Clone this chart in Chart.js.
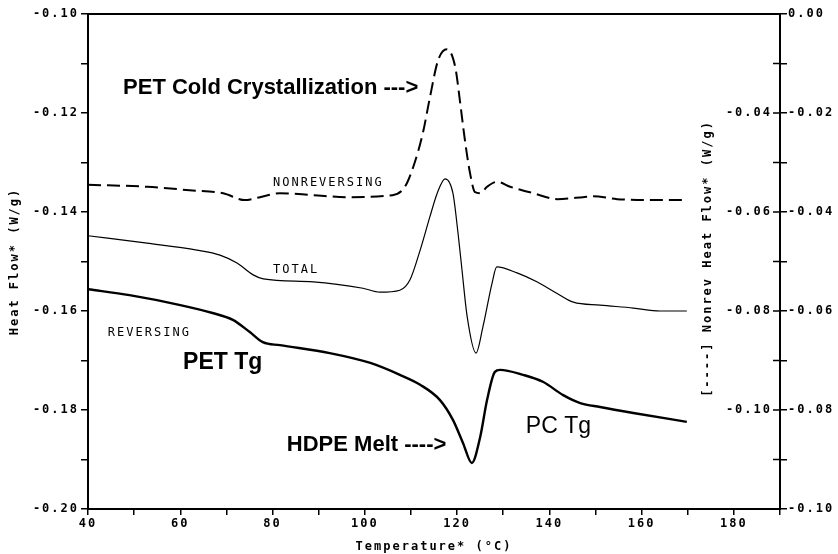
<!DOCTYPE html>
<html><head><meta charset="utf-8">
<script src="https://cdn.jsdelivr.net/npm/chart.js@4.4.1/dist/chart.umd.min.js"></script>
<style>html,body{margin:0;padding:0;background:#fff}#wrap{width:838px;height:554px;position:relative}</style>
</head><body><div id="wrap"><canvas id="c" width="838" height="554"></canvas></div>
<script>
// ---- data (temperature in °C, heat flow in W/g) ----
const tempNonrev = [40, 52.8, 62, 69.3, 74, 77.3, 81.6, 88.8, 96, 106, 108.7, 110.5, 112.6, 114, 115.9, 117.8, 119.6, 120.6, 121.7, 122.8, 123.9, 125, 126.5, 128.7, 131.5, 136.5, 141.7, 147.3, 149.5, 154.7, 161.8, 169.8];
const nonrevFlow = [-0.0345, -0.0349, -0.0356, -0.0362, -0.0376, -0.0370, -0.0362, -0.0366, -0.0370, -0.0366, -0.0349, -0.0309, -0.0240, -0.0174, -0.0093, -0.0071, -0.0107, -0.0174, -0.0255, -0.0321, -0.0360, -0.0362, -0.0349, -0.0339, -0.0349, -0.0362, -0.0374, -0.0370, -0.0368, -0.0374, -0.0376, -0.0376];

const tempTotal = [40, 52.8, 63.6, 68.6, 72.3, 75.8, 78, 88.8, 99.6, 103.3, 107.6, 109.8, 112, 114.1, 115.7, 117.4, 119.1, 120.2, 121, 122.2, 124.1, 125.6, 127.6, 128.6, 133, 137.3, 141.6, 145.2, 151, 158.2, 164, 169.8];
const totalFlow = [-0.1448, -0.1463, -0.1477, -0.1487, -0.1503, -0.1527, -0.1535, -0.1541, -0.1554, -0.1562, -0.1558, -0.1537, -0.1477, -0.1410, -0.1362, -0.1333, -0.1362, -0.1442, -0.1511, -0.1612, -0.1685, -0.1632, -0.1543, -0.1511, -0.1523, -0.1541, -0.1564, -0.1582, -0.1588, -0.1594, -0.1600, -0.1600];

const tempRev = [40, 49, 60, 67, 71.4, 75, 77.9, 81.6, 92.4, 101.2, 107.6, 112, 116.3, 119.1, 121.3, 123.2, 125, 126.5, 128.2, 129.3, 134.3, 138.6, 143, 146.7, 151, 158.2, 169.8];
const revFlow = [-0.1556, -0.1568, -0.1588, -0.1604, -0.1618, -0.1642, -0.1663, -0.1669, -0.1685, -0.1705, -0.1729, -0.1749, -0.1780, -0.1820, -0.1867, -0.1907, -0.1855, -0.1780, -0.1723, -0.1719, -0.1729, -0.1743, -0.1770, -0.1786, -0.1794, -0.1806, -0.1824];

const leftTickValues = [-0.20, -0.18, -0.16, -0.14, -0.12, -0.10];
const leftTickLabels = ['-0.20', '-0.18', '-0.16', '-0.14', '-0.12', '-0.10'];
const rightTickValues = [-0.10, -0.08, -0.06, -0.04, -0.02, 0.00];
const rightTickLabels = ['-0.10', '-0.08', '-0.06', '-0.04', '-0.02', '0.00'];
const innerTickValues = [-0.10, -0.08, -0.06, -0.04];
const innerTickLabels = ['-0.10', '-0.08', '-0.06', '-0.04'];
const xTickLabelValues = [40, 60, 80, 100, 120, 140, 160, 180];

const annotationTexts = ['PET Cold Crystallization --->', 'NONREVERSING', 'TOTAL', 'REVERSING', 'PET Tg', 'HDPE Melt ---->', 'PC Tg'];
const annotationTemps = [47.6, 80.1, 80.1, 44.3, 60.6, 83.1, 134.9];
const annotationFlows = [-0.1149, -0.1341, -0.1517, -0.1644, -0.1705, -0.1871, -0.1834];

// ---- styling ----
const MONO = '"DejaVu Sans Mono", "Liberation Mono", monospace';
const SANS = '"Liberation Sans", Arial, sans-serif';
const annotationFonts = ['bold 22px ' + SANS, '12px ' + MONO, '12px ' + MONO, '12px ' + MONO, 'bold 23px ' + SANS, 'bold 22px ' + SANS, '23px ' + SANS];
const annotationSpacing = ['0px', '2px', '2px', '2px', '0px', '0px', '0px'];

function pts(xs, ys) { return xs.map((x, i) => ({x: x, y: ys[i]})); }
function labelFor(values, labels) {
  return function (v) {
    for (let i = 0; i < values.length; i++) if (Math.abs(values[i] - v) < 1e-6) return labels[i];
    return '';
  };
}

const spacingPlugin = {
  id: 'spacing',
  beforeUpdate(chart) { chart.ctx.letterSpacing = '2px'; },
  beforeLayout(chart) { chart.ctx.letterSpacing = '2px'; },
  beforeDraw(chart) { chart.ctx.letterSpacing = '2px'; }
};

const decorPlugin = {
  id: 'decor',
  afterDraw(chart) {
    const ctx = chart.ctx, a = chart.chartArea;
    const sx = chart.scales.x, sy = chart.scales.y, y2 = chart.scales.y2, y3 = chart.scales.y3;
    ctx.save();
    ctx.strokeStyle = '#000';
    ctx.fillStyle = '#000';
    ctx.lineWidth = 2;
    ctx.strokeRect(a.left, a.top, a.right - a.left, a.bottom - a.top);
    // inner part of right axis ticks
    ctx.lineWidth = 1.5;
    for (let k = 0; k <= 10; k++) {
      const yy = y2.getPixelForValue(-k / 100);
      ctx.beginPath(); ctx.moveTo(a.right - 7, yy); ctx.lineTo(a.right, yy); ctx.stroke();
    }
    // inner scale labels
    ctx.font = 'bold 12px ' + MONO;
    ctx.letterSpacing = '2px';
    ctx.textAlign = 'right';
    ctx.textBaseline = 'middle';
    innerTickValues.forEach((v, i) => {
      ctx.fillText(innerTickLabels[i], a.right - 8, y3.getPixelForValue(v));
    });
    // inner axis title
    ctx.save();
    ctx.translate(a.right - 72, (a.top + a.bottom) / 2 - 3);
    ctx.rotate(-Math.PI / 2);
    ctx.textAlign = 'center';
    ctx.fillText('[----] Nonrev Heat Flow* (W/g)', 0, 0);
    ctx.restore();
    // annotations
    ctx.textAlign = 'left';
    annotationTexts.forEach((t, i) => {
      ctx.font = annotationFonts[i];
      ctx.letterSpacing = annotationSpacing[i];
      ctx.fillText(t, sx.getPixelForValue(annotationTemps[i]), sy.getPixelForValue(annotationFlows[i]));
    });
    ctx.restore();
  }
};

const tickFont = {family: MONO, size: 12, weight: 'bold'};

new Chart(document.getElementById('c'), {
  type: 'line',
  data: {
    datasets: [
      {label: 'NONREVERSING', data: pts(tempNonrev, nonrevFlow), yAxisID: 'y2', borderColor: '#000', borderWidth: 2, borderDash: [13, 6], pointRadius: 0, fill: false, cubicInterpolationMode: 'monotone'},
      {label: 'TOTAL', data: pts(tempTotal, totalFlow), yAxisID: 'y', borderColor: '#000', borderWidth: 1.2, pointRadius: 0, fill: false, cubicInterpolationMode: 'monotone'},
      {label: 'REVERSING', data: pts(tempRev, revFlow), yAxisID: 'y', borderColor: '#000', borderWidth: 2.4, pointRadius: 0, fill: false, cubicInterpolationMode: 'monotone'}
    ]
  },
  options: {
    responsive: false,
    animation: false,
    devicePixelRatio: 1,
    layout: {padding: {top: 14, left: 0, right: 0, bottom: 0}},
    plugins: {legend: {display: false}, tooltip: {enabled: false}},
    scales: {
      x: {
        type: 'linear', min: 40, max: 190,
        afterFit(s) { s.height = 45; },
        ticks: {stepSize: 10, autoSkip: false, maxRotation: 0, color: '#000', font: tickFont, padding: 2,
          callback: v => xTickLabelValues.includes(v) ? String(v) : ''},
        grid: {drawOnChartArea: false, drawTicks: true, tickLength: 6, color: '#000', lineWidth: 1.5},
        border: {display: true, color: '#000', width: 2},
        title: {display: true, text: 'Temperature* (°C)', color: '#000', font: tickFont, padding: {top: 4, bottom: 0}}
      },
      y: {
        position: 'left', min: -0.20, max: -0.10,
        afterFit(s) { s.width = 88; },
        ticks: {stepSize: 0.01, autoSkip: false, color: '#000', font: tickFont, padding: 2, callback: labelFor(leftTickValues, leftTickLabels)},
        grid: {drawOnChartArea: false, drawTicks: true, tickLength: 7, color: '#000', lineWidth: 1.5},
        border: {display: true, color: '#000', width: 2},
        title: {display: true, text: 'Heat Flow* (W/g)', color: '#000', font: tickFont, padding: {top: 8, bottom: 0}}
      },
      y2: {
        position: 'right', min: -0.10, max: 0.00,
        afterFit(s) { s.width = 58; },
        ticks: {stepSize: 0.01, autoSkip: false, color: '#000', font: tickFont, padding: 1, callback: labelFor(rightTickValues, rightTickLabels)},
        grid: {drawOnChartArea: false, drawTicks: true, tickLength: 7, color: '#000', lineWidth: 1.5},
        border: {display: true, color: '#000', width: 2}
      },
      y3: {position: 'right', display: false, min: -0.12, max: -0.02}
    }
  },
  plugins: [spacingPlugin, decorPlugin]
});
</script>
</body></html>
